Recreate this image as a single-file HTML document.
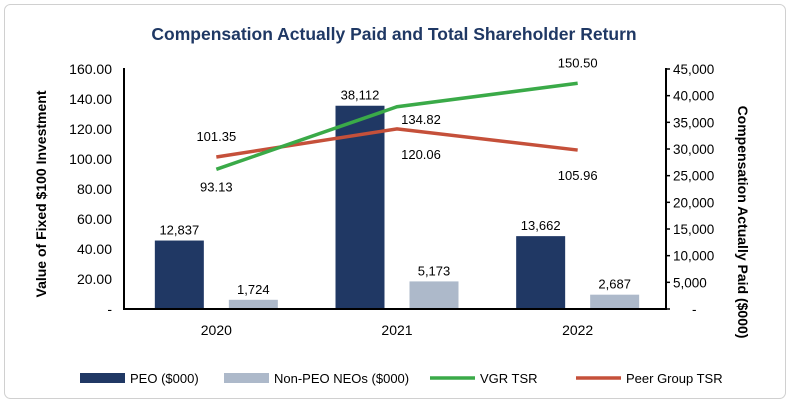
<!DOCTYPE html>
<html><head><meta charset="utf-8"><style>
body{margin:0;background:#fff;}
svg{display:block;font-family:"Liberation Sans",Calibri,sans-serif;}
</style></head><body>
<svg id="c" width="790" height="403" viewBox="0 0 790 403">
<rect x="4.5" y="4.5" width="781" height="394" rx="6" fill="#fff" stroke="#d0d0d0"/>
<text x="394" y="40" text-anchor="middle" font-size="17.5" font-weight="bold" fill="#1f3864">Compensation Actually Paid and Total Shareholder Return</text>
<text transform="translate(46,194) rotate(-90)" text-anchor="middle" font-size="14" font-weight="bold" fill="#000">Value of Fixed $100 Investment</text>
<text transform="translate(738,222) rotate(90)" text-anchor="middle" font-size="14" font-weight="bold" fill="#000">Compensation Actually Paid ($000)</text>
<g id="g"></g>
</svg>
<script>
const categories=["2020","2021","2022"];
const peo=[12837,38112,13662];
const nonPeo=[1724,5173,2687];
const vgrTsr=[93.13,134.82,150.50];
const peerTsr=[101.35,120.06,105.96];
const leftTicks=[0,20,40,60,80,100,120,140,160];
const rightTicks=[0,5000,10000,15000,20000,25000,30000,35000,40000,45000];
const L=124,R=666,T=69,B=309;
const NS="http://www.w3.org/2000/svg";
const g=document.getElementById('g');
function el(t,a,txt){const e=document.createElementNS(NS,t);for(const k in a)e.setAttribute(k,a[k]);if(txt!=null)e.textContent=txt;g.appendChild(e);return e;}
const yL=v=>B-(v/160)*(B-T);
const yR=v=>B-(v/45000)*(B-T);
const cw=(R-L)/categories.length;
const xC=i=>L+cw*(i+0.5)+2;
const fmt=v=>v.toLocaleString('en-US');
let a=el('line',{x1:L,y1:T-1,x2:L,y2:B,stroke:'#000','stroke-width':2});

a=el('line',{x1:R,y1:T-1,x2:R,y2:B,stroke:'#000','stroke-width':2});

leftTicks.forEach(v=>{const t=el('text',{x:L-12,y:yL(v)+5,'text-anchor':'end','font-size':14,fill:'#000'},v===0?'-':v.toFixed(2));
});
rightTicks.forEach(v=>{const k=el('line',{x1:R,y1:yR(v),x2:R+4,y2:yR(v),stroke:'#000','stroke-width':1.5});

const t=el('text',{x:R+(v===0?26:7),y:yR(v)+5,'text-anchor':'start','font-size':13.5,fill:'#000'},v===0?'-':fmt(v));
});
const bw=49;
categories.forEach((c,i)=>{
 const cx=xC(i);
 let r=el('rect',{x:cx-37-bw/2,y:yR(peo[i]),width:bw,height:B-yR(peo[i]),fill:'#203864'});
 
 let t=el('text',{x:cx-37,y:yR(peo[i])-6,'text-anchor':'middle','font-size':13,fill:'#000'},fmt(peo[i]));
 
 r=el('rect',{x:cx+37-bw/2,y:yR(nonPeo[i]),width:bw,height:B-yR(nonPeo[i]),fill:'#adb9ca'});
 
 t=el('text',{x:cx+37,y:yR(nonPeo[i])-6,'text-anchor':'middle','font-size':13,fill:'#000'},fmt(nonPeo[i]));
 
 t=el('text',{x:cx,y:B+26,'text-anchor':'middle','font-size':14,fill:'#000'},c);
 
});
let ax=el('line',{x1:L-1,y1:B,x2:R+1,y2:B,stroke:'#000','stroke-width':2});

let p=el('polyline',{points:peerTsr.map((v,i)=>xC(i)+','+yL(v)).join(' '),fill:'none',stroke:'#c5503a','stroke-width':3.5});

p=el('polyline',{points:vgrTsr.map((v,i)=>xC(i)+','+yL(v)).join(' '),fill:'none',stroke:'#3aaa48','stroke-width':3.5});

const vgrOff=[22,17,-16],peerOff=[-16,30,30];
categories.forEach((c,i)=>{
 const dx=i===1?24:0;
 let t=el('text',{x:xC(i)+dx,y:yL(vgrTsr[i])+vgrOff[i],'text-anchor':'middle','font-size':13,fill:'#000'},vgrTsr[i].toFixed(2));
 
 t=el('text',{x:xC(i)+dx,y:yL(peerTsr[i])+peerOff[i],'text-anchor':'middle','font-size':13,fill:'#000'},peerTsr[i].toFixed(2));
 
});
const leg=[['PEO ($000)','#203864','rect',80],['Non-PEO NEOs ($000)','#adb9ca','rect',224],['VGR TSR','#3aaa48','line',430],['Peer Group TSR','#c5503a','line',576]];
leg.forEach(([n,col,k,x])=>{
 let m;
 if(k==='rect')m=el('rect',{x:x,y:373,width:45,height:10,fill:col});
 else m=el('line',{x1:x,y1:378,x2:x+45,y2:378,stroke:col,'stroke-width':3.5});
 
 const t=el('text',{x:x+50,y:383,'font-size':13,fill:'#000'},n);
 
});
</script>
</body></html>
